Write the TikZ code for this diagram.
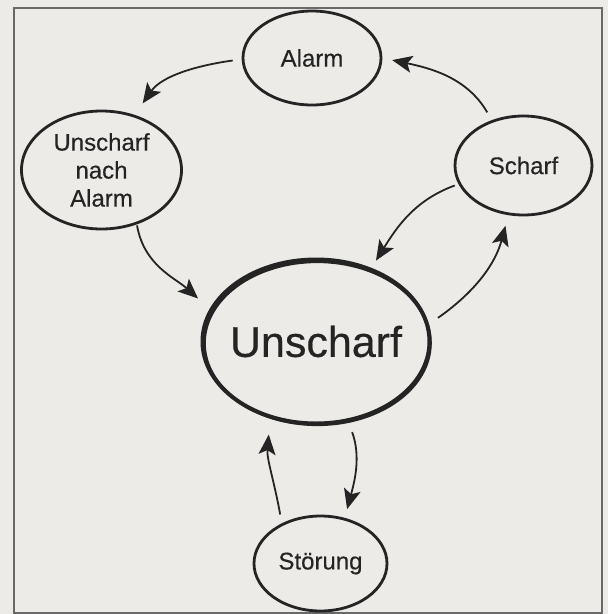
\documentclass[tikz,border=0pt]{standalone}
\usepackage{fontspec}
\setmainfont{Liberation Sans}[FakeBold=0.4]
\usetikzlibrary{shapes.geometric,arrows.meta}
\definecolor{paper}{RGB}{236,235,231}
\definecolor{ink}{RGB}{36,36,36}
\definecolor{framec}{RGB}{105,105,105}
\tikzset{
  state/.style={ellipse, draw=ink, line width=2.8pt, inner sep=0pt, text=ink,
    font=\fontsize{24}{28}\selectfont, align=center},
  bigstate/.style={ellipse, inner sep=0pt, text=ink, font=\fontsize{43}{48}\selectfont},
  bigring/.style={draw=ink, line width=4pt},
  conn/.style={draw=ink, line width=1.8pt,
    arrows={-Stealth[length=20pt,width=17pt,inset=4.5pt,line width=1.4pt]}},
}
\begin{document}
\begin{tikzpicture}[x=1pt,y=-1pt]
\useasboundingbox (0,0) rectangle (608,614);
\fill[paper] (0,0) rectangle (608,614);
\draw[framec, line width=1.3pt] (14,8) rectangle (602,613);

\node[state, minimum width=138pt, minimum height=94pt] (alarm) at (312,58) {Alarm};
\node[state, minimum width=160pt, minimum height=118pt] (una) at (101.5,170) {Unscharf\\nach\\Alarm};
\node[state, minimum width=137pt, minimum height=99pt] (scharf) at (523.5,165.5) {Scharf};
\node[bigstate, minimum width=227pt, minimum height=164pt] (unscharf) at (316,341.5) {Unscharf};
\draw[bigring] (unscharf.center) ellipse [x radius=113.5pt, y radius=82pt];
\draw[bigring, line width=3pt] ([shift={(1.3,1.6)}]unscharf.center) ellipse [x radius=113pt, y radius=81.5pt];
\node[state, minimum width=133pt, minimum height=95pt] (stoer) at (320.5,563.5) {Störung};

\draw[conn, shorten <=9pt, shorten >=14pt] (alarm.181) to[out=188, in=55] (una.59);
\draw[conn, shorten <=9pt, shorten >=10pt] (scharf.125) to[out=120, in=-12] (alarm.0);
\draw[conn, shorten <=1pt, shorten >=11pt] (una.-57) to[out=-80, in=138] (unscharf.162);
\draw[conn, shorten <=4pt, shorten >=9pt] (scharf.196) to[out=200, in=58] (unscharf.53);
\draw[conn, shorten <=5pt, shorten >=11pt] (unscharf.10) to[out=35, in=-105] (scharf.253);
\draw[conn, shorten <=12pt, shorten >=9pt] (unscharf.-68) to[out=-70, in=75] (stoer.62);
\draw[conn, shorten <=9pt, shorten >=17pt] (stoer.134) to[out=100, in=-95] (unscharf.239);
\end{tikzpicture}
\end{document}
